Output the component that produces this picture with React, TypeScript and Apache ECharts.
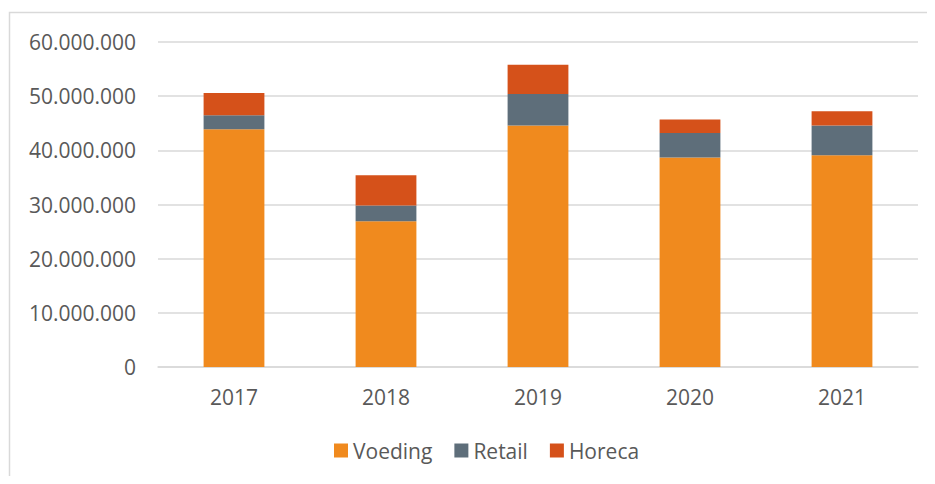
import React, { useEffect, useRef } from "react";
import * as echarts from "echarts";

const years = ["2017", "2018", "2019", "2020", "2021"];
const voeding = [43900000, 26900000, 44600000, 38700000, 39100000];
const retail = [2600000, 2900000, 5800000, 4500000, 5500000];
const horeca = [4100000, 5600000, 5400000, 2500000, 2600000];
const seriesNames = ["Voeding", "Retail", "Horeca"];
const colors = ["#F08A1E", "#5E6E7A", "#D5511A"];

const fmt = (v: number) => String(Math.round(v)).replace(/\B(?=(\d{3})+(?!\d))/g, ".");

export default function App() {
  const ref = useRef<HTMLDivElement>(null);
  useEffect(() => {
    if (!ref.current) return;
    const chart = echarts.init(ref.current, undefined, { renderer: "svg" });
    const font = "'Open Sans', 'Noto Sans', sans-serif";
    const data = [voeding, retail, horeca];
    chart.setOption({
      animation: false,
      textStyle: { fontFamily: font },
      graphic: [
        {
          type: "rect",
          shape: { x: 9.5, y: 12.5, width: 940, height: 480 },
          style: { fill: "none", stroke: "#D9D9D9", lineWidth: 1.5 },
          silent: true,
        },
      ],
      grid: { left: 158, right: 17, top: 42, bottom: 117, containLabel: false },
      legend: {
        bottom: 18,
        left: 329,
        itemWidth: 14,
        itemHeight: 14,
        itemGap: 22,
        icon: "rect",
        textStyle: { fontSize: 21, color: "#595959", fontFamily: font },
        data: seriesNames,
      },
      xAxis: {
        type: "category",
        data: years,
        axisLine: { show: true, lineStyle: { color: "#D9D9D9", width: 1.5 } },
        axisTick: { show: false },
        axisLabel: { fontSize: 21, color: "#595959", margin: 19, fontFamily: font },
      },
      yAxis: {
        type: "value",
        min: 0,
        max: 60000000,
        interval: 10000000,
        axisLine: { show: false },
        axisTick: { show: false },
        splitLine: { lineStyle: { color: "#D9D9D9", width: 1.5 } },
        axisLabel: {
          fontSize: 21,
          color: "#595959",
          margin: 22,
          fontFamily: font,
          formatter: (v: number) => fmt(v),
        },
      },
      series: seriesNames.map((name, i) => ({
        name,
        type: "bar",
        stack: "total",
        barWidth: "40%",
        data: data[i],
        itemStyle: { color: colors[i] },
      })),
    });
    return () => chart.dispose();
  }, []);
  return <div ref={ref} style={{ width: 935, height: 484, margin: -8 }} />;
}
